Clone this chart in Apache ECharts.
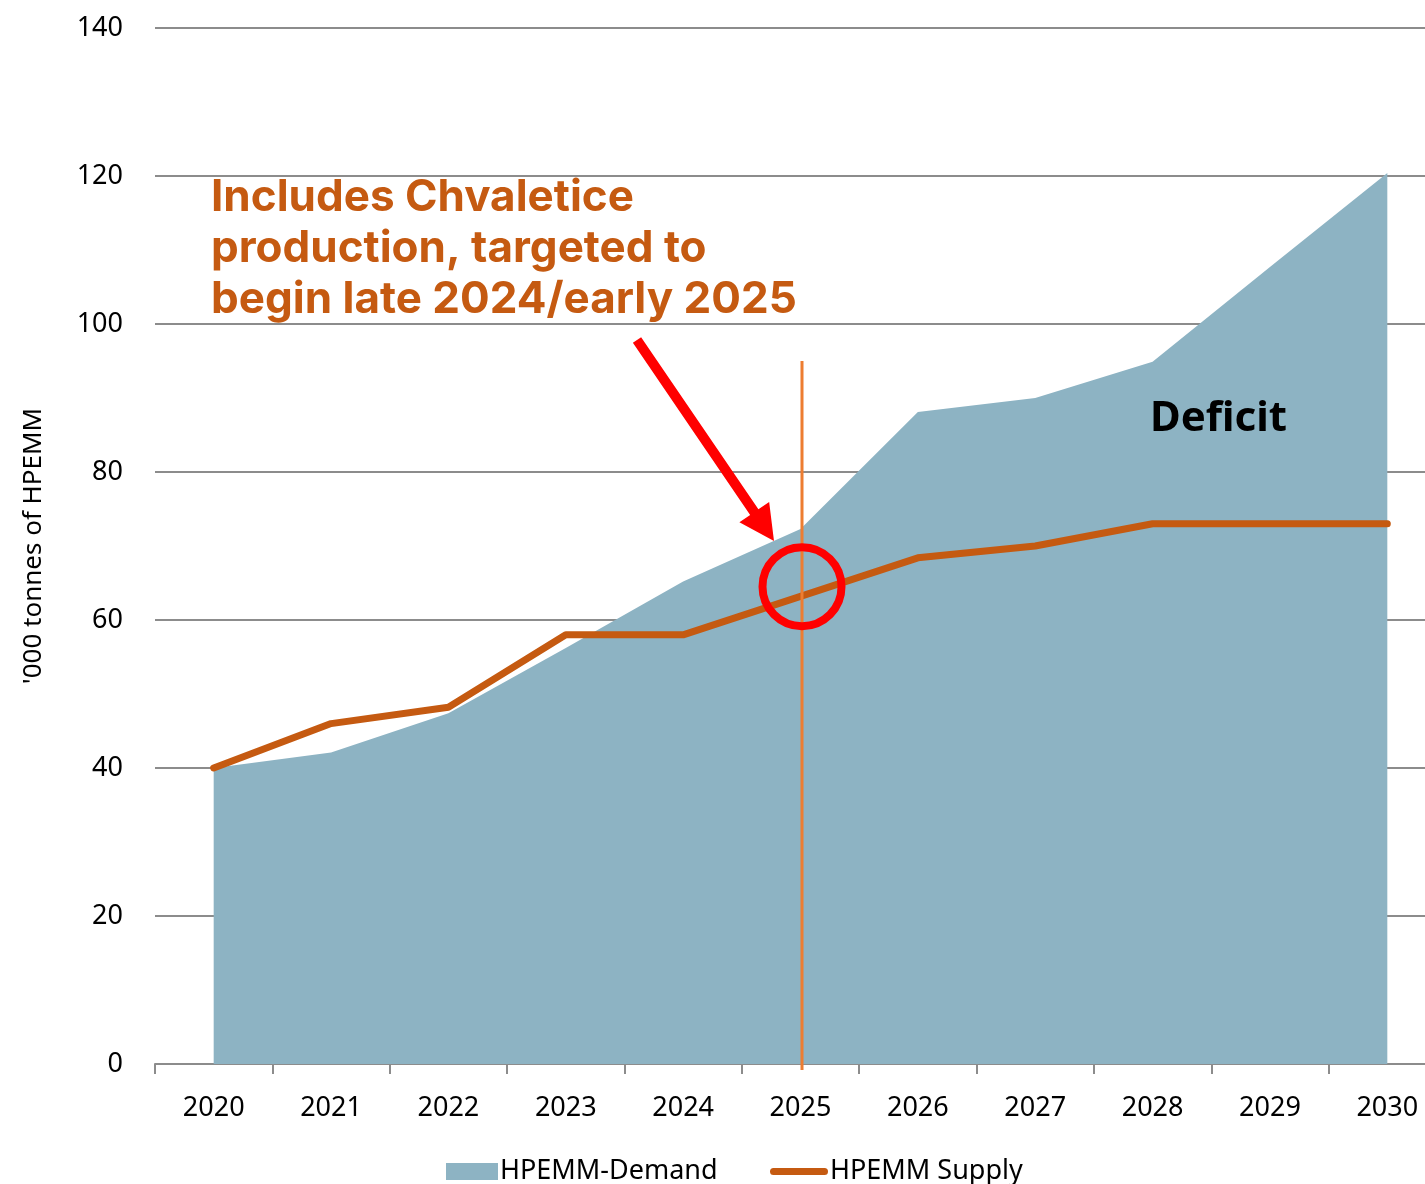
<!DOCTYPE html>
<html>
<head>
<meta charset="utf-8">
<script src="https://cdn.jsdelivr.net/npm/echarts@6/dist/echarts.min.js"></script>
<style>
  html, body { margin: 0; padding: 0; background: #fff; }
  #chart { width: 1425px; height: 1184px; }
</style>
</head>
<body>
<div id="chart"></div>
<script>
// HPEMM demand vs supply outlook, thousand tonnes
const years = ['2020', '2021', '2022', '2023', '2024', '2025', '2026', '2027', '2028', '2029', '2030'];
const demand = [40, 42.1, 47.4, 56.2, 65.2, 72.3, 88.1, 90.0, 94.9, 107.7, 120.4];
const supply = [40, 46.0, 48.2, 58.0, 58.0, 63.2, 68.4, 70.0, 73.0, 73.0, 73.0];
const yTicks = { min: 0, max: 140, step: 20 };

const noteLines = ['Includes Chvaletice', 'production, targeted to', 'begin late 2024/early 2025'];
const deficitLabel = 'Deficit';
const startYear = '2025';

const BASE_FONT = '"Noto Sans", "Open Sans", sans-serif';
const DEMAND_COLOR = '#8db3c3';
const SUPPLY_COLOR = '#c55a11';
const legendText = { fontFamily: BASE_FONT, fontSize: 27, color: '#000', padding: [0, 0, 0, -3] };

const chart = echarts.init(document.getElementById('chart'), null, { renderer: 'canvas' });

chart.setOption({
  animation: false,
  backgroundColor: '#ffffff',
  // plot runs past the right edge of the canvas
  grid: { left: 155, width: 1291, top: 28, bottom: 120, containLabel: false, outerBoundsMode: 'none' },
  legend: [
    {
      left: 446,
      top: 1158,
      padding: 0,
      itemWidth: 52,
      itemHeight: 17,
      textStyle: legendText,
      data: [{ name: 'HPEMM-Demand', icon: 'rect' }]
    },
    {
      left: 770,
      top: 1158,
      padding: 0,
      itemWidth: 58,
      itemHeight: 7,
      textStyle: legendText,
      data: [{
        name: 'HPEMM Supply',
        icon: 'path://M3.5,0 H54.5 A3.5,3.5 0 0 1 54.5,7 H3.5 A3.5,3.5 0 0 1 3.5,0 Z',
        itemStyle: { color: SUPPLY_COLOR, borderWidth: 0 }
      }]
    }
  ],
  xAxis: {
    type: 'category',
    data: years,
    boundaryGap: true,
    axisLine: { show: true, lineStyle: { color: '#8c8c8c', width: 2 } },
    axisTick: { show: true, length: 10, lineStyle: { color: '#8c8c8c', width: 2 } },
    axisLabel: { color: '#000', fontFamily: BASE_FONT, fontSize: 27, margin: 31 }
  },
  yAxis: {
    type: 'value',
    min: yTicks.min,
    max: yTicks.max,
    interval: yTicks.step,
    name: "'000 tonnes of HPEMM",
    nameLocation: 'middle',
    nameGap: 108,
    nameRotate: 90,
    nameTextStyle: { color: '#000', fontFamily: BASE_FONT, fontSize: 26 },
    axisLine: { show: false },
    axisTick: { show: false },
    axisLabel: { color: '#000', fontFamily: BASE_FONT, fontSize: 27, margin: 32 },
    splitLine: { show: true, lineStyle: { color: '#8c8c8c', width: 2 } }
  },
  series: [
    {
      name: 'HPEMM-Demand',
      type: 'line',
      data: demand,
      symbol: 'none',
      itemStyle: { color: DEMAND_COLOR },
      lineStyle: { width: 0, color: DEMAND_COLOR },
      areaStyle: { color: DEMAND_COLOR, opacity: 1 },
      z: 2
    },
    {
      name: 'HPEMM Supply',
      type: 'line',
      data: supply,
      symbol: 'none',
      itemStyle: { color: SUPPLY_COLOR },
      lineStyle: { width: 7, color: SUPPLY_COLOR, cap: 'round', join: 'round' },
      z: 3
    }
  ]
});

// Annotations placed relative to the axes
function drawNotes() {
  const top = chart.convertToPixel({ gridIndex: 0 }, [startYear, 95]);
  const base = chart.convertToPixel({ gridIndex: 0 }, [startYear, 0]);
  const ring = chart.convertToPixel({ gridIndex: 0 }, [startYear, 64.5]);
  const vx = Math.round(top[0]) + 2;

  // arrow pointing at the start of production
  const tail = [637, 340], tip = [774, 541];
  const dx = tip[0] - tail[0], dy = tip[1] - tail[1];
  const len = Math.hypot(dx, dy);
  const ux = dx / len, uy = dy / len, nx = -uy, ny = ux;
  const headLen = 35, headHalf = 18, shaftHalf = 5;
  const bx = tip[0] - ux * headLen, by = tip[1] - uy * headLen;
  const arrowPts = [
    [tail[0] + nx * shaftHalf, tail[1] + ny * shaftHalf],
    [bx + nx * shaftHalf, by + ny * shaftHalf],
    [bx + nx * headHalf, by + ny * headHalf],
    tip,
    [bx - nx * headHalf, by - ny * headHalf],
    [bx - nx * shaftHalf, by - ny * shaftHalf],
    [tail[0] - nx * shaftHalf, tail[1] - ny * shaftHalf]
  ];

  const elements = [
    {
      type: 'rect', z: 10,
      shape: { x: vx - 1.5, y: top[1], width: 3, height: base[1] + 6 - top[1] },
      style: { fill: '#ed7d31' }
    },
    {
      type: 'circle', z: 11,
      shape: { cx: vx, cy: ring[1], r: 39.5 },
      style: { fill: 'none', stroke: '#ff0000', lineWidth: 8 }
    },
    {
      type: 'polygon', z: 11,
      shape: { points: arrowPts },
      style: { fill: '#ff0000' }
    },
    {
      type: 'text', z: 12, left: 1150, top: 398,
      style: { text: deficitLabel, fill: '#000', font: 'bold 42px "Noto Sans", sans-serif' }
    }
  ];
  noteLines.forEach((t, i) => {
    elements.push({
      type: 'text', z: 12, left: 211, top: 176 + i * 51,
      style: { text: t, fill: SUPPLY_COLOR, font: 'bold 44px Inter, sans-serif' }
    });
  });
  chart.setOption({ graphic: elements });
}
drawNotes();
</script>
</body>
</html>
